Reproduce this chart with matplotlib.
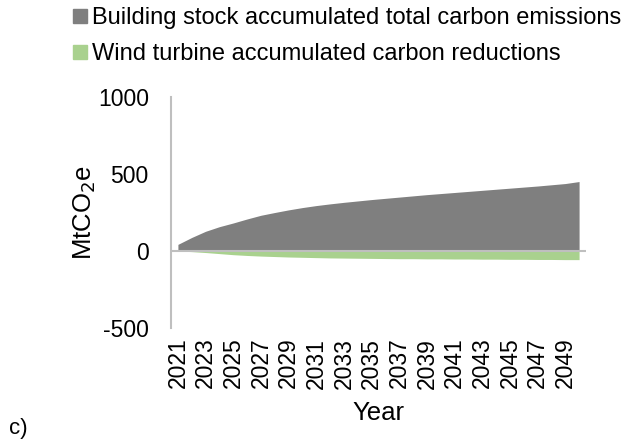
import numpy as np
import matplotlib.pyplot as plt
from matplotlib.lines import Line2D

plt.rcParams['font.family'] = ['Liberation Sans', 'DejaVu Sans']

# Data (MtCO2e)
years = list(range(2021, 2051))
building_emissions = [43, 88, 128, 158, 182, 208, 232, 250, 267, 282,
                      295, 306, 316, 325, 334, 342, 350, 358, 366, 373,
                      380, 387, 394, 401, 408, 415, 422, 430, 438, 451]
wind_reductions = [0, -4, -10, -17, -24, -29, -33, -36, -39, -41,
                   -43, -45, -46, -47, -48, -49, -50, -50, -51, -51,
                   -52, -52, -53, -53, -54, -54, -55, -55, -56, -56]
tick_years = [str(y) for y in years[::2]]

gray = '#7F7F7F'
green = '#A9D18E'
axis_col = '#BFBFBF'

W, H = 629, 442
fig = plt.figure(figsize=(W / 100, H / 100), dpi=100)
ax = fig.add_axes([171 / W, 1 - 328 / H, (586 - 171) / W, (328 - 97) / H])

x = np.arange(len(years))
ax.fill_between(x, 0, building_emissions, color=gray, linewidth=0)
ax.fill_between(x, 0, wind_reductions, color=green, linewidth=0)

ax.set_xlim(-0.5, len(years) - 0.5)
ax.set_ylim(-500, 1000)
ax.set_yticks([-500, 0, 500, 1000])
ax.set_yticklabels(['-500', '0', '500', '1000'], fontsize=16.5)
ax.set_xticks(x[::2])
ax.set_xticklabels(tick_years, rotation=90, fontsize=16.5)
ax.tick_params(axis='y', length=0, pad=16)
ax.tick_params(axis='x', length=0, pad=7)

for s in ['top', 'right', 'bottom']:
    ax.spines[s].set_visible(False)
ax.spines['left'].set_color(axis_col)
ax.spines['left'].set_linewidth(1.5)
ax.axhline(0, color=axis_col, linewidth=1.5, zorder=3)

ax.set_ylabel('MtCO$_2$e', fontsize=18.5, labelpad=0)
ax.set_xlabel('Year', fontsize=18.5, labelpad=9)

handles = [Line2D([], [], marker='s', linestyle='', color=gray, markersize=9.4),
           Line2D([], [], marker='s', linestyle='', color=green, markersize=9.4)]
fig.legend(handles, ['Building stock accumulated total carbon emissions',
                     'Wind turbine accumulated carbon reductions'],
           loc='upper left', bbox_to_anchor=(73 / W, 1 - 7 / H), frameon=False,
           fontsize=17, handletextpad=0.19, handlelength=0.6,
           labelspacing=0.6, borderaxespad=0, borderpad=0)

fig.text(9 / W, 1 - 434 / H, 'c)', fontsize=16)

fig.savefig('out.png', dpi=100)
